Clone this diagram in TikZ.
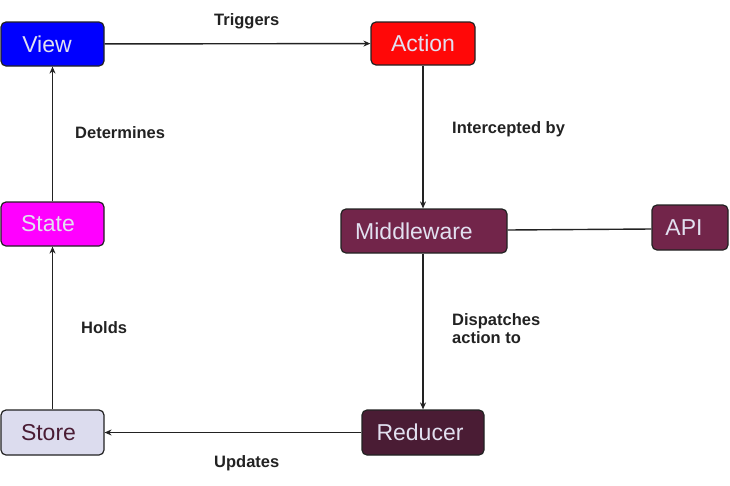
\documentclass[tikz,border=0pt]{standalone}
\usepackage{fontspec}
\setmainfont{Liberation Sans}
\usetikzlibrary{arrows.meta}
\definecolor{txtlight}{HTML}{E2E0F0}
\definecolor{mwfill}{HTML}{72254A}
\definecolor{redfill}{HTML}{4A1C34}
\definecolor{storefill}{HTML}{DCDCEE}
\definecolor{storetxt}{HTML}{4A1C34}
\definecolor{edge}{HTML}{222222}
\definecolor{viewfill}{HTML}{0000FF}
\definecolor{actfill}{HTML}{FF0808}
\definecolor{statefill}{HTML}{FF00FF}
\begin{document}
\begin{tikzpicture}[x=1pt,y=-1pt,
  box/.style={draw=edge, line width=1.2pt, rounded corners=5pt, inner sep=0pt,
    text=txtlight, font=\fontsize{23}{26}\selectfont},
  lbl/.style={anchor=west, text=edge, font=\bfseries\fontsize{16.5}{18}\selectfont, align=left, inner sep=0pt},
  conn/.style={draw=edge, line width=1.4pt, -{Stealth[length=7pt,width=6pt]}}
]
\useasboundingbox (0,0) rectangle (730,485);
\node[box, fill=viewfill, minimum width=103pt, minimum height=44pt] (view) at (52.5,44) {View\kern11pt};
\node[box, fill=actfill, minimum width=104pt, minimum height=43pt] (action) at (423,43.5) {Action};
\node[box, fill=statefill, minimum width=103pt, minimum height=44pt] (state) at (52.5,224) {State\kern9pt};
\node[box, fill=mwfill, minimum width=166pt, minimum height=44pt] (mw) at (424,231) {Middleware\kern20pt};
\node[box, fill=mwfill, minimum width=76pt, minimum height=45pt] (api) at (690,227.5) {API\kern12pt};
\node[box, fill=storefill, text=storetxt, minimum width=103pt, minimum height=45pt] (store) at (52.5,432.5) {Store\kern8pt};
\node[box, fill=redfill, minimum width=122pt, minimum height=45pt] (reducer) at (423,432.5) {Reducer\kern6pt};

\draw[conn] (view) -- (action);
\draw[conn] (state) -- (view);
\draw[conn] (action) -- (mw.north -| action);
\draw[conn] (mw.south -| reducer) -- (reducer);
\draw[conn] (reducer) -- (store);
\draw[conn] (store) -- (state);
\draw[draw=edge, line width=1.4pt] ([yshift=1pt]mw.east) -- ([yshift=-1.5pt]api.west);

\node[lbl] (l1) at (214,21) {Triggers};
\node[lbl] (l2) at (75,133) {Determines};
\node[lbl] (l3) at (452,129) {Intercepted by};
\node[lbl] (l4) at (81,328) {Holds};
\node[lbl] (l5) at (452,329) {Dispatches\\action to};
\node[lbl] (l6) at (214,463) {Updates};
\end{tikzpicture}
\end{document}
